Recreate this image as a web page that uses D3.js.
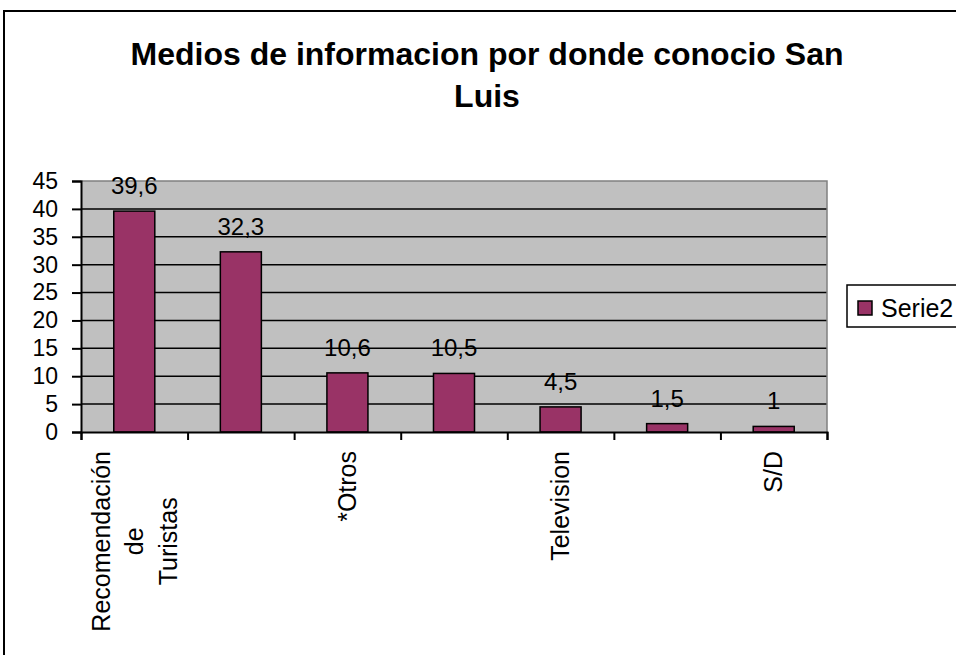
<!DOCTYPE html>
<html>
<head>
<meta charset="utf-8">
<script src="https://cdn.jsdelivr.net/npm/d3@7"></script>
<style>
  body { margin: 0; background: #fff; }
  svg { display: block; font-family: "Liberation Sans", Arial, sans-serif; }
</style>
</head>
<body>
<svg width="956" height="655"></svg>
<script>
// data
var categories = ["Recomendación de Turistas", "", "*Otros", "", "Television", "", "S/D"];
var values     = [39.6, 32.3, 10.6, 10.5, 4.5, 1.5, 1];
var valueText  = ["39,6", "32,3", "10,6", "10,5", "4,5", "1,5", "1"];
var yTicks     = [0, 5, 10, 15, 20, 25, 30, 35, 40, 45];
var seriesName = "Serie2";
var titleLines = ["Medios de informacion por donde conocio San", "Luis"];

var svg = d3.select("svg");
var plotL = 81, plotR = 827, plotT = 181, plotB = 432;
var barColor = "#993366";

// outer chart frame (runs off the right and bottom of the picture)
svg.append("path")
  .attr("d", "M4,700 L4,11 L960,11")
  .attr("fill", "none")
  .attr("stroke", "#000")
  .attr("stroke-width", 2);

// title
svg.append("text")
  .attr("x", 487)
  .attr("y", 65)
  .attr("text-anchor", "middle")
  .attr("font-size", 32)
  .attr("font-weight", "bold")
  .selectAll("tspan")
  .data(titleLines)
  .enter().append("tspan")
  .attr("x", 487)
  .attr("dy", function(d, i) { return i === 0 ? 0 : 42; })
  .text(function(d) { return d; });

var idx = d3.range(categories.length);

var x = d3.scaleBand()
  .domain(idx)
  .range([plotL, plotR])
  .paddingInner(0.615)
  .paddingOuter(0.3075);

var xEdge = d3.scaleLinear()
  .domain([0, categories.length])
  .range([plotL, plotR]);

var y = d3.scaleLinear()
  .domain([0, 45])
  .range([plotB, plotT]);

// plot background
svg.append("rect")
  .attr("x", plotL)
  .attr("y", plotT)
  .attr("width", plotR - plotL)
  .attr("height", plotB - plotT)
  .attr("fill", "#c0c0c0");

// gridlines
svg.append("g")
  .selectAll("line")
  .data(yTicks.filter(function(t) { return t > 0 && t < 45; }))
  .enter().append("line")
  .attr("x1", plotL)
  .attr("x2", plotR)
  .attr("y1", function(d) { return y(d); })
  .attr("y2", function(d) { return y(d); })
  .attr("stroke", "#000")
  .attr("stroke-width", 1.5);

// plot border top/right
svg.append("path")
  .attr("d", "M" + plotL + "," + plotT + "L" + plotR + "," + plotT + "L" + plotR + "," + plotB)
  .attr("fill", "none")
  .attr("stroke", "#808080")
  .attr("stroke-width", 1.5);

// bars
svg.append("g")
  .selectAll("rect")
  .data(idx)
  .enter().append("rect")
  .attr("x", function(i) { return x(i); })
  .attr("width", x.bandwidth())
  .attr("y", function(i) { return y(values[i]); })
  .attr("height", function(i) { return y(0) - y(values[i]); })
  .attr("fill", barColor)
  .attr("stroke", "#000")
  .attr("stroke-width", 1.5);

// y axis
var yAxis = svg.append("g")
  .attr("transform", "translate(" + plotL + ",0)")
  .call(d3.axisLeft(y).tickValues(yTicks).tickSize(9).tickPadding(14).tickFormat(d3.format("d")));
yAxis.select(".domain").attr("stroke", "#000").attr("stroke-width", 2);
yAxis.selectAll(".tick line").attr("stroke", "#000").attr("stroke-width", 2);
yAxis.selectAll(".tick text")
  .attr("font-size", 23)
  .attr("font-family", "Liberation Sans, Arial, sans-serif")
  .attr("fill", "#000");

// x axis with ticks on the category edges
var xAxis = svg.append("g")
  .attr("transform", "translate(0," + plotB + ")")
  .call(d3.axisBottom(xEdge).ticks(categories.length).tickSize(8).tickFormat(""));
xAxis.select(".domain").attr("stroke", "#000").attr("stroke-width", 2);
xAxis.selectAll(".tick line").attr("stroke", "#000").attr("stroke-width", 2);

// category labels, rotated, words stacked
var lblG = svg.append("g").attr("font-size", 25).attr("fill", "#000");
idx.forEach(function(i) {
  if (!categories[i]) return;
  var words = categories[i].split(" ");
  var cx = x(i) + x.bandwidth() / 2;
  var texts = words.map(function(w, j) {
    return lblG.append("text")
      .attr("text-anchor", "middle")
      .attr("dy", "0.35em")
      .text(w);
  });
  var maxLen = d3.max(texts, function(t) { return t.node().getComputedTextLength(); });
  texts.forEach(function(t, j) {
    var tx = cx + (j - (words.length - 1) / 2) * 33.5;
    var ty = 451 + maxLen / 2;
    t.attr("transform", "translate(" + tx + "," + ty + ") rotate(-90)");
  });
});

// data labels
svg.append("g")
  .selectAll("text")
  .data(idx)
  .enter().append("text")
  .attr("x", function(i) { return x(i) + x.bandwidth() / 2; })
  .attr("y", function(i) { return y(values[i]) - 17; })
  .attr("text-anchor", "middle")
  .attr("font-size", 24)
  .attr("fill", "#000")
  .text(function(i) { return valueText[i]; });

// legend
var leg = svg.append("g");
leg.append("rect")
  .attr("x", 847).attr("y", 285)
  .attr("width", 130).attr("height", 42)
  .attr("fill", "#fff")
  .attr("stroke", "#000")
  .attr("stroke-width", 1.5);
leg.append("rect")
  .attr("x", 858).attr("y", 301)
  .attr("width", 14).attr("height", 14)
  .attr("fill", barColor)
  .attr("stroke", "#000")
  .attr("stroke-width", 1.5);
leg.append("text")
  .attr("x", 881).attr("y", 317)
  .attr("font-size", 25)
  .attr("fill", "#000")
  .text(seriesName);
</script>
</body>
</html>
